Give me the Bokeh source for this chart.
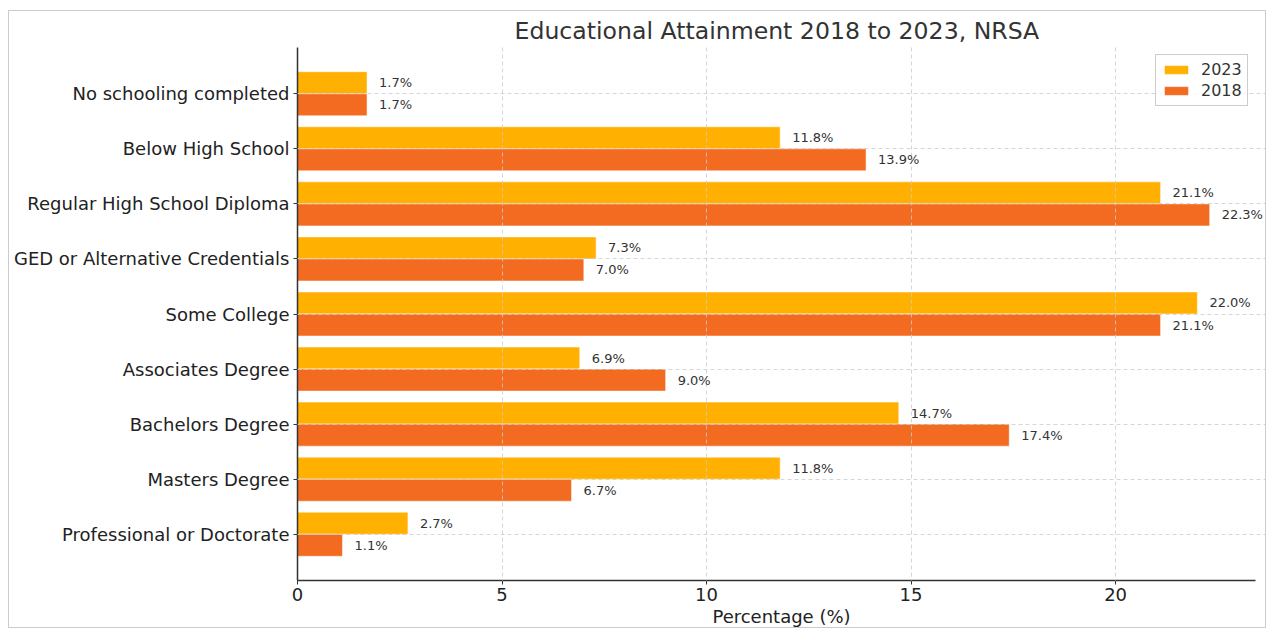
from bokeh.plotting import figure
from bokeh.models import ColumnDataSource, Range1d, FixedTicker, Legend, LegendItem, LabelSet
from bokeh.transform import dodge
from bokeh.core.properties import value
from bokeh.embed import file_html
from bokeh.resources import INLINE

categories = ["No schooling completed", "Below High School", "Regular High School Diploma",
              "GED or Alternative Credentials", "Some College", "Associates Degree",
              "Bachelors Degree", "Masters Degree", "Professional or Doctorate"]
values_2023 = [1.7, 11.8, 21.1, 7.3, 22.0, 6.9, 14.7, 11.8, 2.7]
values_2018 = [1.7, 13.9, 22.3, 7.0, 21.1, 9.0, 17.4, 6.7, 1.1]
x_ticks = [0, 5, 10, 15, 20]

C2023 = "#FFB000"
C2018 = "#F26B21"
FONT = "DejaVu Sans"

idx = list(range(len(categories)))
src = ColumnDataSource(dict(
    idx=idx, cat=categories, v23=values_2023, v18=values_2018,
    l23=[f"{v:.1f}%" for v in values_2023], l18=[f"{v:.1f}%" for v in values_2018]))

xmax = max(values_2023 + values_2018) * 1.05
xext = xmax + 0.25  # extra room so the longest value label is not clipped
n = len(categories)
p = figure(width=1258, height=618, output_backend="svg", toolbar_location=None,
           x_range=Range1d(0, xext), y_range=Range1d(n - 1 + 0.84, -0.84),
           min_border_left=288, min_border_right=2, min_border_top=33, min_border_bottom=49)
p.margin = (10, 0, 0, 8)

p.title.text = "Educational Attainment 2018 to 2023, NRSA"
p.title.align = "left"
p.title.text_font = FONT
p.title.text_font_size = "23.6px"
p.title.text_font_style = "normal"
p.title.text_color = "#333333"
p.title.offset = 217
p.title.standoff = 6

r23 = p.hbar(y=dodge("idx", -0.2), right="v23", left=0, height=0.4, source=src,
             fill_color=C2023, line_color="white", line_alpha=0.5, line_width=1)
r18 = p.hbar(y=dodge("idx", 0.2), right="v18", left=0, height=0.4, source=src,
             fill_color=C2018, line_color="white", line_alpha=0.5, line_width=1)

lab23 = LabelSet(x="v23", y=dodge("idx", -0.2), text="l23", source=src, x_offset=12,
                 text_baseline="middle", text_font=value(FONT), text_font_size=value("13px"),
                 text_color=value("#333333"))
lab18 = LabelSet(x="v18", y=dodge("idx", 0.2), text="l18", source=src, x_offset=12,
                 text_baseline="middle", text_font=value(FONT), text_font_size=value("13px"),
                 text_color=value("#333333"))
p.add_layout(lab23)
p.add_layout(lab18)

# axes
p.yaxis.ticker = FixedTicker(ticks=idx)
p.yaxis.major_label_overrides = {i: c for i, c in zip(idx, categories)}
p.xaxis.ticker = FixedTicker(ticks=x_ticks)
p.xaxis.bounds = (0, xmax)
for ax in (p.xaxis[0], p.yaxis[0]):
    ax.axis_line_color = "#333333"
    ax.axis_line_width = 1.5
    ax.major_tick_line_color = "#333333"
    ax.major_tick_in = 0
    ax.major_tick_out = 4
    ax.minor_tick_line_color = None
    ax.major_label_text_font = FONT
    ax.major_label_text_font_size = "18px"
    ax.major_label_text_color = "#222222"
    ax.major_label_standoff = 4
p.xaxis.axis_label = "Percentage (%)"
p.xaxis.axis_label_text_font = FONT
p.xaxis.axis_label_text_font_size = "18px"
p.xaxis.axis_label_text_font_style = "normal"
p.xaxis.axis_label_text_color = "#222222"
p.xaxis.axis_label_standoff = 2
p.xaxis.major_label_standoff = 3

for g in (p.xgrid[0], p.ygrid[0]):
    g.grid_line_color = "#cccccc"
    g.grid_line_dash = "4 3"
    g.grid_line_width = 0.8
    g.level = "guide"
p.ygrid.ticker = FixedTicker(ticks=idx)
p.ygrid[0].bounds = (0, xmax)
p.xgrid.ticker = FixedTicker(ticks=x_ticks)

p.outline_line_color = None

legend = Legend(items=[LegendItem(label="2023", renderers=[r23]),
                       LegendItem(label="2018", renderers=[r18])],
                location=(858, 474))
legend.label_text_font = FONT
legend.label_text_font_size = "16px"
legend.label_text_color = "#333333"
legend.border_line_color = "#cccccc"
legend.border_line_alpha = 1
legend.background_fill_alpha = 0.8
legend.glyph_width = 30
legend.glyph_height = 11
legend.spacing = 2
legend.padding = 5
legend.margin = 0
legend.label_standoff = 10
p.add_layout(legend)

p.styles = {"border": "1px solid #cccccc"}

open("out.html", "w").write(file_html(p, INLINE))
